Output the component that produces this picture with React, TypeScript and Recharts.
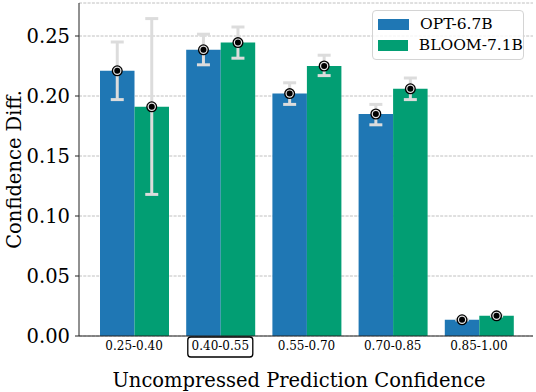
import { BarChart, Bar, XAxis, YAxis, CartesianGrid, ErrorBar, LabelList } from 'recharts';

const bins = ['0.25-0.40', '0.40-0.55', '0.55-0.70', '0.70-0.85', '0.85-1.00'];
const optMean = [0.221, 0.2385, 0.202, 0.185, 0.0135];
const bloomMean = [0.191, 0.2445, 0.225, 0.206, 0.0168];
// error bar ends: [low, high]
const optRange: [number, number][] = [[0.197, 0.245], [0.226, 0.2515], [0.193, 0.211], [0.176, 0.193], [0.0135, 0.0135]];
const bloomRange: [number, number][] = [[0.118, 0.2645], [0.2315, 0.2575], [0.217, 0.234], [0.197, 0.215], [0.0168, 0.0168]];
const yTicks = [0, 0.05, 0.1, 0.15, 0.2, 0.25];
const seriesNames = ['OPT-6.7B', 'BLOOM-7.1B'];

const OPT_COLOR = '#1f77b4';
const BLOOM_COLOR = '#029e73';
const FONT = '"DejaVu Serif", serif';

const data = bins.map((bin, i) => ({
  bin,
  opt: optMean[i],
  bloom: bloomMean[i],
  optErr: [optMean[i] - optRange[i][0], optRange[i][1] - optMean[i]],
  bloomErr: [bloomMean[i] - bloomRange[i][0], bloomRange[i][1] - bloomMean[i]],
}));

const MeanDot = (props: any) => {
  const { x, y, width } = props;
  const cx = Number(x) + Number(width) / 2;
  const cy = Number(y);
  return (
    <g>
      <circle cx={cx} cy={cy} r={5.5} fill="#000" />
      <circle cx={cx} cy={cy} r={3.6} fill="none" stroke="#e4e4e4" strokeWidth={1.2} />
      <circle cx={cx} cy={cy} r={1.8} fill="#000" />
    </g>
  );
};

const BinTick = (props: any) => {
  const { x, y, payload, index } = props;
  return (
    <g>
      {index === 1 && (
        <rect x={x - 32.5} y={y + 1} width={65} height={20} rx={3} fill="none" stroke="#000" strokeWidth={1.3} />
      )}
      <text x={x} y={y + 14} textAnchor="middle" fontSize={12} fontFamily={FONT} fill="#000">
        {payload.value}
      </text>
    </g>
  );
};

const LegendBox = () => (
  <div
    style={{
      position: 'absolute',
      left: 372,
      top: 10,
      width: 152,
      boxSizing: 'border-box',
      border: '1px solid #d4d4d4',
      borderRadius: 4,
      background: 'rgba(255,255,255,0.8)',
      padding: '3px 0 3px 5px',
      fontFamily: FONT,
      fontSize: 15.5,
      lineHeight: '21px',
      whiteSpace: 'nowrap',
    }}
  >
    {seriesNames.map((name, i) => (
      <div key={name} style={{ display: 'flex', alignItems: 'center' }}>
        <span style={{ display: 'inline-block', width: 31, height: 11, background: i === 0 ? OPT_COLOR : BLOOM_COLOR, marginRight: 11 }} />
        <span>{name}</span>
      </div>
    ))}
  </div>
);

export default function App() {
  return (
    <div style={{ position: 'absolute', left: 0, top: 0, width: 536, height: 392, background: '#fff' }}>
      <BarChart
        width={536}
        height={392}
        data={data}
        margin={{ top: 3, right: 3, bottom: 0, left: 0 }}
        barGap={0}
        barSize={34.5}
      >
        <CartesianGrid vertical={false} stroke="#b0b0b0" strokeDasharray="3 1.3" strokeWidth={0.8} />
        <XAxis
          dataKey="bin"
          height={56}
          padding={{ left: 12, right: 11 }}
          tickLine={false}
          tickSize={0}
          tickMargin={0}
          tick={<BinTick />}
          axisLine={{ stroke: '#222', strokeWidth: 1 }}
          interval={0}
          label={{ value: 'Uncompressed Prediction Confidence', position: 'insideBottom', offset: 5, dx: -7, fontSize: 19.5, fontFamily: FONT, fill: '#000' }}
        />
        <XAxis xAxisId="top" dataKey="bin" orientation="top" height={0} tick={false} tickLine={false} axisLine={{ stroke: '#222', strokeWidth: 1 }} />
        <YAxis
          domain={[0, 0.2775]}
          ticks={yTicks}
          tickFormatter={(v: number) => v.toFixed(2)}
          width={79}
          tickSize={4}
          tickMargin={5}
          tick={{ fontSize: 19.5, fontFamily: FONT, fill: '#000' }}
          tickLine={{ stroke: '#222' }}
          axisLine={{ stroke: '#222', strokeWidth: 1 }}
          label={{ value: 'Confidence Diff.', angle: -90, position: 'insideLeft', offset: 0, dx: 14, fontSize: 19.5, fontFamily: FONT, fill: '#000', style: { textAnchor: 'middle' } }}
        />
        <YAxis yAxisId="right" orientation="right" width={0} domain={[0, 0.2775]} tick={false} tickLine={false} axisLine={{ stroke: '#222', strokeWidth: 1 }} />
        <Bar dataKey="opt" name={seriesNames[0]} fill={OPT_COLOR} isAnimationActive={false}>
          <ErrorBar dataKey="optErr" width={6.5} strokeWidth={3} stroke="#dcdcdc" direction="y" />
          <LabelList dataKey="opt" content={<MeanDot />} />
        </Bar>
        <Bar dataKey="bloom" name={seriesNames[1]} fill={BLOOM_COLOR} isAnimationActive={false}>
          <ErrorBar dataKey="bloomErr" width={6.5} strokeWidth={3} stroke="#dcdcdc" direction="y" />
          <LabelList dataKey="bloom" content={<MeanDot />} />
        </Bar>
      </BarChart>
      <LegendBox />
    </div>
  );
}
